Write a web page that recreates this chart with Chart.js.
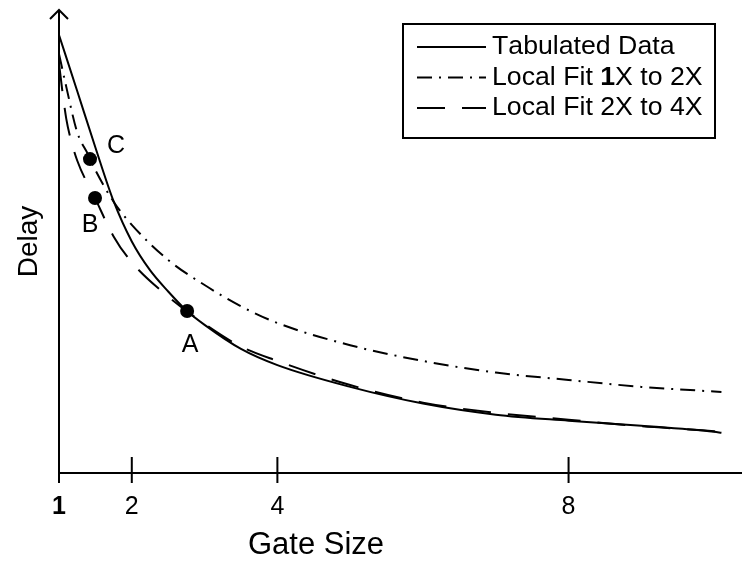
<!DOCTYPE html>
<html>
<head>
<meta charset="utf-8">
<script src="https://cdn.jsdelivr.net/npm/chart.js@4"></script>
<style>
  body { margin: 0; background: #fff; }
</style>
</head>
<body>
<canvas id="chart" width="743" height="565"></canvas>
<script>
const FONT = '"Liberation Sans", Arial, sans-serif';

// tabulated delay vs gate size
const tabX = [1, 1.25, 1.5, 1.75, 2, 2.25, 2.5, 2.75, 3, 3.5, 4, 5, 6, 7, 8, 9, 10, 10.1];
const tabulated = [94.6, 82.5, 70.3, 58.7, 50.0, 43.8, 39.2, 35.1, 32.0, 26.8, 23.3, 18.6, 15.0, 12.6, 11.3, 10.2, 8.9, 8.7];

// local fit 1X to 2X (dash-dot)
const fit1X = [1, 1.1, 1.25, 1.4, 1.5, 1.75, 2, 2.5, 3, 3.5, 4, 5, 6, 7, 8, 9, 10, 10.1];
const fit1Y = [90.5, 83.4, 73.6, 68.8, 65.4, 58.6, 53.6, 46.0, 40.6, 36.0, 32.4, 27.6, 24.2, 21.7, 20.1, 18.6, 17.6, 17.5];

// local fit 2X to 4X (dashed)
const fit2X = [1, 1.05, 1.1, 1.15, 1.25, 1.5, 1.75, 2, 2.5, 3, 3.5, 4, 5, 6, 7, 8, 9, 10, 10.1];
const fit2Y = [88.5, 82, 76.5, 72.8, 67.5, 59.2, 51.1, 45.5, 38.1, 32.2, 27.3, 24.2, 19.0, 15.2, 13.0, 11.5, 10.1, 9.0, 8.8];

// marked points
const markNames = ['A', 'B', 'C'];
const markX = [2.76, 1.495, 1.426];
const markY = [35.0, 59.4, 67.8];

const xTicks = [1, 2, 4, 8];
const seriesNames = ['Tabulated Data', 'Local Fit 1X to 2X', 'Local Fit 2X to 4X'];

const pts = (xs, ys) => xs.map((v, i) => ({ x: v, y: ys[i] }));

// the source figure sets every "1" in bold
function drawMixed(ctx, text, x, y, size) {
  let cx = x;
  for (const ch of text) {
    ctx.font = (ch === '1' ? 'bold ' : '') + size + 'px ' + FONT;
    ctx.fillText(ch, cx, y);
    cx += ctx.measureText(ch).width;
  }
}

const decor = {
  id: 'decor',
  afterDraw(chart) {
    const { ctx, chartArea: a, scales: { x } } = chart;
    ctx.save();
    ctx.strokeStyle = '#000';
    ctx.lineWidth = 2;
    ctx.setLineDash([]);
    ctx.beginPath();
    // y axis with arrow head
    ctx.moveTo(a.left, a.bottom + 10);
    ctx.lineTo(a.left, a.top);
    ctx.moveTo(a.left - 9, a.top + 9);
    ctx.lineTo(a.left, a.top);
    ctx.lineTo(a.left + 9, a.top + 9);
    // x axis runs on to the right edge
    ctx.moveTo(a.left, a.bottom);
    ctx.lineTo(chart.width - 1, a.bottom);
    // tick marks crossing the axis
    x.ticks.forEach(t => {
      if (t.value === 1) return;
      const px = x.getPixelForValue(t.value);
      ctx.moveTo(px, a.bottom - 16);
      ctx.lineTo(px, a.bottom + 10);
    });
    ctx.stroke();

    // point labels
    const off = { A: [3, 34], B: [-5, 27], C: [26, -13] };
    ctx.fillStyle = '#000';
    ctx.font = '25px ' + FONT;
    ctx.textAlign = 'center';
    ctx.textBaseline = 'middle';
    const meta = chart.getDatasetMeta(3);
    meta.data.forEach((p, i) => {
      const o = off[markNames[i]];
      ctx.fillText(markNames[i], p.x + o[0], p.y + o[1]);
    });

    // x title
    ctx.font = '31px ' + FONT;
    ctx.fillText('Gate Size', 316, 545);

    // legend
    ctx.strokeRect(403, 24, 312, 114);
    ctx.textAlign = 'left';
    for (let i = 0; i < 3; i++) {
      const ds = chart.data.datasets[i];
      const ly = 47 + i * 30.5;
      ctx.beginPath();
      ctx.setLineDash(ds.borderDash || []);
      ctx.moveTo(417, ly);
      ctx.lineTo(486, ly);
      ctx.stroke();
      ctx.setLineDash([]);
      drawMixed(ctx, ds.label, 492, ly, 26.7);
    }
    ctx.restore();
  }
};

const lineStyle = {
  borderColor: '#000',
  borderWidth: 2,
  pointRadius: 0,
  showLine: true,
  fill: false,
  clip: false,
  cubicInterpolationMode: 'monotone'
};

new Chart(document.getElementById('chart'), {
  type: 'scatter',
  data: {
    datasets: [
      { ...lineStyle, label: seriesNames[0], data: pts(tabX, tabulated) },
      { ...lineStyle, label: seriesNames[1], data: pts(fit1X, fit1Y), borderDash: [15, 7, 2, 7] },
      { ...lineStyle, label: seriesNames[2], data: pts(fit2X, fit2Y), borderDash: [28, 17] },
      {
        label: 'points', data: pts(markX, markY), showLine: false, clip: false,
        pointRadius: 7, pointBackgroundColor: '#000', pointBorderColor: '#000', pointBorderWidth: 0
      }
    ]
  },
  options: {
    responsive: false,
    animation: false,
    layout: { padding: { top: 10, right: 1, left: 0, bottom: 0 } },
    plugins: { legend: { display: false }, tooltip: { enabled: false } },
    scales: {
      x: {
        type: 'linear',
        min: 1,
        max: 10.3,
        afterBuildTicks: s => { s.ticks = xTicks.map(v => ({ value: v })); },
        afterFit: s => { s.height = 92; },
        grid: { display: false, drawTicks: false },
        border: { display: false },
        ticks: {
          autoSkip: false,
          maxRotation: 0,
          padding: 19,
          color: '#000',
          callback: v => String(v),
          font: c => ({ family: FONT, size: 25, weight: c.tick && c.tick.value === 1 ? 'bold' : 'normal' })
        }
      },
      y: {
        type: 'linear',
        min: 0,
        max: 100,
        afterFit: s => { s.width = 59; },
        grid: { display: false, drawTicks: false },
        border: { display: false },
        ticks: { display: false },
        title: {
          display: true,
          text: 'Delay',
          color: '#000',
          font: { family: FONT, size: 28 },
          padding: { top: 12, bottom: 0 }
        }
      }
    }
  },
  plugins: [decor]
});
</script>
</body>
</html>
